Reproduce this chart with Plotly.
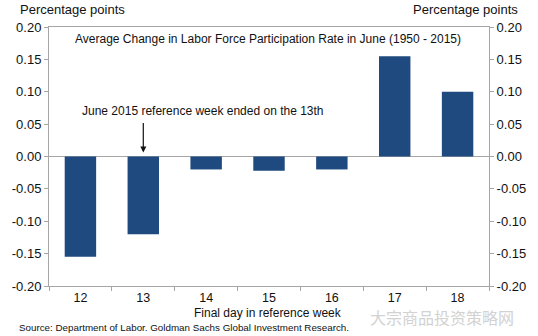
import plotly.graph_objects as go

# Final day of the June reference week and the average change in the
# labor force participation rate (percentage points), 1950-2015
days = ["12", "13", "14", "15", "16", "17", "18"]
avg_change = [-0.155, -0.12, -0.02, -0.022, -0.02, 0.155, 0.10]

y_ticks = [-0.20, -0.15, -0.10, -0.05, 0.00, 0.05, 0.10, 0.15, 0.20]
y_labels = [f"{v:.2f}" for v in y_ticks]

FONT = "Liberation Sans, Arial, sans-serif"
AXIS_GREY = "#a6a6a6"
BAR_BLUE = "#1f4a7f"

fig = go.Figure()
fig.add_trace(go.Bar(x=days, y=avg_change, marker=dict(color=BAR_BLUE, line=dict(width=0)),
                     showlegend=False, hoverinfo="x+y"))
# invisible trace so the right-hand value axis gets drawn
fig.add_trace(go.Scatter(x=days, y=avg_change, yaxis="y2", mode="markers",
                         marker=dict(opacity=0), showlegend=False, hoverinfo="skip"))

axis_common = dict(
    range=[-0.2, 0.2], tickvals=y_ticks, ticktext=y_labels,
    ticks="outside", ticklen=4, tickcolor=AXIS_GREY,
    showline=True, linecolor=AXIS_GREY, linewidth=1,
    showgrid=False, tickfont=dict(family=FONT, size=13, color="#111"),
)

fig.update_layout(
    width=538, height=336,
    margin=dict(l=40, r=40, t=27, b=50),
    paper_bgcolor="white", plot_bgcolor="white",
    bargap=0.5,
    font=dict(family=FONT, color="#111"),
    xaxis=dict(
        type="category", categoryorder="array", categoryarray=days,
        range=[-0.5, len(days) - 0.5], autorange=False,
        ticks="outside", tickson="boundaries", ticklen=4, tickcolor=AXIS_GREY,
        showline=True, linecolor=AXIS_GREY, linewidth=1, mirror=True,
        showgrid=False, tickfont=dict(family=FONT, size=12.5, color="#111"),
    ),
    yaxis=dict(**axis_common, side="left", zeroline=True,
               zerolinecolor=AXIS_GREY, zerolinewidth=1),
    yaxis2=dict(**axis_common, side="right", overlaying="y", zeroline=False),
    annotations=[
        dict(text="Percentage points", xref="paper", yref="paper", x=-0.07, y=1.066,
             xanchor="left", yanchor="middle", showarrow=False,
             font=dict(family=FONT, size=13, color="#111")),
        dict(text="Percentage points", xref="paper", yref="paper", x=1.07, y=1.066,
             xanchor="right", yanchor="middle", showarrow=False,
             font=dict(family=FONT, size=13, color="#111")),
        dict(text="Average Change in Labor Force Participation Rate in June (1950 - 2015)",
             xref="paper", yref="y", x=0.498, y=0.182, xanchor="center", yanchor="middle",
             showarrow=False, font=dict(family=FONT, size=12, color="#111")),
        dict(text="June 2015 reference week ended on the 13th",
             xref="paper", yref="y", x=0.07, y=0.071, xanchor="left", yanchor="middle",
             showarrow=False, font=dict(family=FONT, size=12, color="#111")),
        dict(text="", xref="x", yref="y", x=1, y=0.006, ax=0, ay=-31,
             showarrow=True, arrowhead=2, arrowsize=1, arrowwidth=1.2, arrowcolor="#111"),
        dict(text="Final day in reference week", xref="paper", yref="paper",
             x=0.498, y=-0.104, xanchor="center", yanchor="middle", showarrow=False,
             font=dict(family=FONT, size=12, color="#111")),
        dict(text="Source: Department of Labor. Goldman Sachs Global Investment Research.",
             xref="paper", yref="paper", x=-0.072, y=-0.162, xanchor="left", yanchor="middle",
             showarrow=False, font=dict(family=FONT, size=9.8, color="#111")),
        dict(text="大宗商品投资策略网", xref="paper", yref="paper", x=0.725, y=-0.118,
             xanchor="left", yanchor="middle", showarrow=False,
             font=dict(family="Noto Sans CJK SC", size=16, color="#d2d2d2")),
    ],
)

fig.write_html("out.html")
